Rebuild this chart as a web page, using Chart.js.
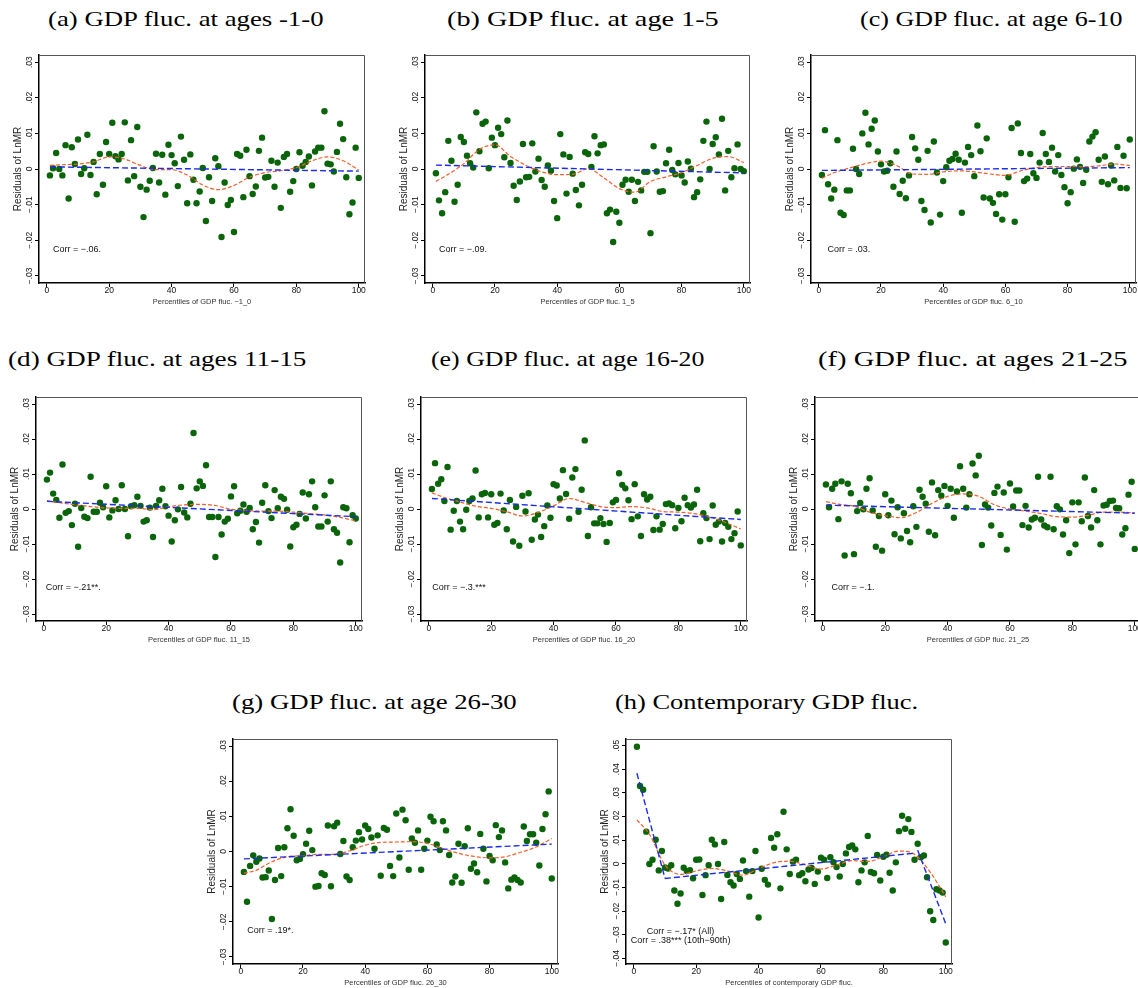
<!DOCTYPE html>
<html><head><meta charset="utf-8">
<script src="https://cdn.jsdelivr.net/npm/chart.js@4.4.1/dist/chart.umd.min.js"></script>
<style>
body{margin:0;background:#fff;width:1138px;height:988px;overflow:hidden;position:relative}
canvas{position:absolute}
.ttl{position:absolute;font-family:"Liberation Serif","Times New Roman",serif;font-size:22px;line-height:22px;white-space:nowrap;transform-origin:0 0;color:#000}
</style></head><body>
<script>
/* ---------- data (residuals in units of 0.001) ---------- */
const PCT = Array.from({length:100},(_,i)=>i+1);          // percentiles 1..100
const X_TICKS = [0,20,40,60,80,100];
const Y_TICKS = [-0.03,-0.02,-0.01,0,0.01,0.02,0.03];
const Y_LABELS = ['\u2212.03','\u2212.02','\u2212.01','0','.01','.02','.03'];
const Y_TICKS_H = [-0.04,-0.03,-0.02,-0.01,0,0.01,0.02,0.03,0.04,0.05];
const Y_LABELS_H = ['\u2212.04','\u2212.03','\u2212.02','\u2212.01','0','.01','.02','.03','.04','.05'];

const RES_A = [-1.8,0.2,4.5,0,-1.8,6.7,-8.3,6.1,1.4,8.3,
  -1.4,0.2,9.6,-1.7,2.0,-7.1,4.2,-4.4,7.6,4.2,
  13.0,3.6,2.7,4.2,13.1,-3.2,8.1,-2.0,11.8,-5.0,
  -13.5,-5.8,-3.3,0.3,4.3,-3.8,4.0,-7.2,6.8,3.9,
  1.6,-4.8,9.1,2.6,-9.6,4.1,-3.0,-9.6,-6.3,0.3,
  -14.6,-2.3,-9.0,3.0,0.8,-19.1,-3.8,-10.1,-8.7,-17.7,
  4.2,3.7,-7.9,5.4,-2.0,-7.0,-4.9,5.1,8.8,-2.4,
  -2.2,2.3,-5.0,1.8,-10.9,3.4,4.2,-6.4,-3.4,0,
  4.7,0.9,2.0,3.5,-4.6,4.9,6.0,6.0,16.2,1.5,
  1.3,-0.7,4.8,12.7,8.4,-2.3,-12.7,-9.4,6.0,-2.5];
const RES_B = [-1.2,-8.8,-12.4,-6.5,7.9,2.3,-9.2,-4.4,9.0,7.6,
  3.7,1.6,0.4,15.9,5.0,12.7,13.3,0.2,8.8,6.7,
  11.6,9.8,3.3,13.6,1.7,-4.7,-8.7,-3.5,7.0,-2.3,
  -2.2,7.2,-0.7,2.9,-3.1,-5.0,1.0,-0.5,-9.0,-13.8,
  9.8,4.1,-6.9,3.4,-1.3,-5.9,-10.2,-4.4,4.7,4.2,
  0.6,9.2,4.4,6.7,6.9,-12.4,-11.4,-20.5,-12.0,-15.1,
  -4.4,-3.0,-6.4,-3.0,-9.0,-3.6,-6.0,-0.8,-0.8,-18.0,
  6.4,-0.7,-6.4,-6.2,1.6,5.4,-0.3,-1.5,1.7,-1.8,
  -3.8,2.1,0.1,-7.9,-6.5,-2.9,7.9,13.3,0,7.0,
  8.9,4.1,14.1,-6.0,5.1,-2.3,0.2,6.9,0,-0.6];
const RES_C = [-1.7,10.9,-4.3,-8.3,-5.8,8.1,-12.3,-12.9,-6.0,-6.0,
  5.7,0,-1.4,10.0,15.8,6.9,11.3,13.6,4.9,1.3,
  -0.7,-0.5,1.6,-5.0,4.9,-7.0,-3.3,-8.2,-1.8,9.0,
  5.8,2.6,-9.0,-11.5,5.1,-15.0,7.7,-1.0,-12.8,-3.4,
  0.5,2.3,2.8,4.3,2.6,-12.3,1.8,6.2,3.9,-2.0,
  12.2,5.0,-8.0,8.6,-8.3,-9.5,-12.6,-7.1,-14.2,-7.1,
  -2.3,11.5,-14.8,12.8,4.5,-3.4,-2.7,4.2,-1.2,-2.5,
  1.8,10.1,4.2,2.0,6.0,-0.7,3.9,-1.7,-5.1,-9.6,
  -6.5,0.1,2.7,0.6,-3.9,-0.2,7.7,9.1,10.3,2.6,
  -3.6,3.5,-4.3,1.0,-3.2,6.2,-5.3,3.7,-5.4,8.3];
const RES_D = [8.4,10.4,4.4,2.6,-2.5,12.7,-1.1,-0.6,-4.6,1.5,
  -10.8,0.3,-2.2,-2.6,9.2,-0.8,-0.8,1.8,0.5,6.5,
  -2.4,-0.4,2.5,0,6.8,0,-7.8,0.8,1.1,3.5,
  0.9,-3.6,-3.2,0.4,-8.0,0.9,2.5,5.8,0.8,-1.9,
  -9.3,-3.2,-0.1,6.3,-1.0,-2.4,1.5,21.7,5.9,7.9,
  6.6,12.5,-2.3,-2.3,-13.7,-2.3,-7.3,-3.6,-2.8,3.6,
  6.5,-1.2,-0.5,1.3,-0.8,0.3,-5.8,-3.7,-9.6,1.8,
  6.8,-0.6,-2.6,5.4,0.2,3.5,2.9,-0.2,-10.7,-5.2,
  -4.5,-1.4,4.7,-2.7,4.2,7.9,0.5,-5.0,-5.0,3.9,
  -3.6,7.9,-5.8,-6.8,-15.3,0.5,0.2,-9.5,-1.8,-2.7];
const RES_E = [5.7,13.1,7.2,8.5,2.3,12.0,-5.9,-0.5,2.3,-3.6,
  -5.8,-0.2,2.3,3.0,11.0,-2.4,4.2,4.6,-2.4,4.2,
  -4.5,-4.0,4.4,-0.4,-5.8,2.6,-9.3,0.6,-10.5,3.8,
  -0.7,4.5,-8.8,-3.0,-1.6,-8.0,-4.9,1.0,-2.5,7.1,
  6.7,3.0,11.1,4.3,-2.8,9.0,11.4,-0.8,5.5,19.6,
  -7.7,0.5,-4.1,-4.1,-2.6,-4.3,-9.4,-4.0,1.9,2.6,
  10.2,6.9,5.9,2.5,-2.9,7.1,-2.1,-7.7,4.2,2.7,
  3.5,-6.0,-2.1,-5.9,-4.3,1.4,1.6,1.1,-5.5,0.3,
  -3.5,3.2,1.1,0.4,1.3,5.5,-9.2,-1.2,-2.6,-8.6,
  1.0,-4.5,-3.6,-9.3,-4.0,-5.1,-8.6,-6.9,-0.7,-10.4];
const RES_F = [7.0,0.5,5.8,7.2,-2.9,7.9,-13.3,7.2,4.5,-12.9,
  -0.6,1.7,-0.1,5.8,8.8,-0.4,-10.8,-2.0,-11.9,4.2,
  -1.8,2.4,-7.2,0.5,-8.4,-1.2,-6.3,-9.5,0.8,-5.1,
  5.5,3.5,1.5,-6.5,7.6,-7.5,5.4,3.8,6.6,0.9,
  5.8,-2.5,5.0,12.2,5.8,0.4,4.2,13.0,9.6,15.2,
  -10.3,1.3,0.4,-4.7,4.6,6.4,-7.4,4.7,-11.6,7.3,
  0.7,5.3,5.3,-4.6,0.9,-5.3,-3.0,-2.5,9.2,-3.0,
  -4.7,-5.2,9.2,-5.8,0.8,-0.1,-7.3,-3.2,-12.6,1.9,
  -10.1,1.9,-3.5,9.0,-2.0,-5.3,5.4,-3.2,-10.1,1.0,
  1.2,2.3,2.4,0.3,0.2,-7.3,-5.5,4.1,7.8,-11.4];
const RES_G = [-5.8,-14.3,-4.1,-1.1,-2.9,-2.0,-7.4,-7.3,-5.4,-19.2,
  -8.1,1.0,-7.0,1.2,6.6,12.0,4.5,-2.5,-2.1,-0.8,
  2.2,5.9,0.4,-10.0,-9.8,-6.2,-6.7,7.4,-9.9,7.2,
  8.2,-0.7,3.0,-7.1,-8.1,1.2,3.1,5.5,3.4,7.4,
  6.4,4.0,0.8,4.6,-6.9,6.7,6.2,-4.1,-7.0,10.8,
  -1.7,11.9,8.9,-5.2,3.7,2.5,6.0,-5.2,0.8,3.1,
  9.9,8.6,2.0,0.4,8.6,6.0,-1.0,-8.8,-7.1,2.2,
  -8.9,1.5,6.6,-4.9,-3.4,-5.9,5.0,0.8,-8.5,-1.3,
  -2.5,7.5,4.1,6.0,-3.1,-10.5,-8.0,-7.4,-8.1,-8.8,
  7.1,3.0,4.9,4.9,2.5,-4.0,6.4,10.6,17.1,-7.7];
const RES_H = [49.5,32.9,31.3,13.6,-0.1,1.7,10.2,-2.8,5.4,-1.6,
  -2.0,-0.6,-11.3,-16.9,-12.6,-1.7,-3.1,-2.7,-6.1,1.7,
  1.8,-13.2,-4.8,-0.6,10.2,8.2,-0.1,-14.9,9.2,-4.7,
  -7.8,-9.2,-4.3,-6.4,1.4,-3.1,-13.9,-3.1,5.4,-22.7,
  -2.1,-6.8,-8.8,10.9,6.8,12.5,-10.4,22.0,6.1,-4.3,
  0.9,1.7,-4.8,-4.0,-7.4,-2.4,-1.8,-8.5,-3.3,2.6,
  1.7,-6.0,2.8,0.7,-1.4,-5.4,-0.1,4.4,7.1,7.8,
  6.1,-7.8,-2.8,0.6,11.8,-3.5,-4.0,3.7,-7.1,3.0,
  3.8,-3.8,-11.3,0.6,13.8,20.3,14.8,18.9,13.5,1.7,
  8.5,2.8,3.5,-5.7,-20.1,-23.8,-10.8,-11.3,-12.2,-33.3];

/* lowess curves, read at these percentiles */
const LOW_X = [1,5,10,15,20,25,30,35,40,45,50,55,60,65,70,75,80,85,90,95,100];
const LOW_A = [1.0,1.2,1.4,2.0,3.4,2.8,1.0,-0.2,-0.2,-1.7,-4.5,-5.8,-4.6,-2.3,-1.0,-0.5,0.4,2.3,3.4,2.3,-0.3];
const LOW_B = [-3.5,-1.5,1.5,5.5,6.8,3.5,1.0,-0.8,-1.6,-1.5,0.1,-2.5,-5.5,-6.5,-3.5,-2.2,-1.0,1.0,3.0,3.5,1.8];
const LOW_C = [-2.6,-1.0,0.3,1.5,2.2,1.0,-1.4,-1.5,-0.8,-0.5,-0.8,-1.4,-1.8,-0.5,0.4,0.7,0.7,0.6,0.9,1.4,1.0];
const LOW_D = [2.3,1.8,1.2,0.7,0.3,0.2,0.2,-0.2,0.6,1.2,1.3,1.0,-0.1,-0.4,-0.6,-0.6,-0.9,-1.3,-1.7,-2.4,-3.4];
const LOW_E = [4.6,3.3,2.0,0.8,0.2,-0.8,-2.0,-1.0,0.9,3.0,1.9,0.7,0.4,0.7,0.3,-0.7,-0.9,-1.3,-2.3,-3.8,-5.7];
const LOW_F = [2.1,1.4,0.8,-0.9,-1.9,-2.5,-1.0,1.6,3.6,4.3,3.6,1.2,0.0,-0.6,-1.3,-2.2,-2.3,-1.8,-0.9,-0.9,-1.1];
const LOW_G = [-6.2,-5.3,-2.9,-1.5,-1.2,-0.8,-0.8,0.2,1.8,2.6,2.7,2.8,2.3,0.8,-0.5,-1.4,-1.8,-1.5,-0.2,1.3,3.7];
const LOW_H = [18.6,12.5,-0.5,-4.5,-3.0,-2.0,-3.0,-4.8,-2.0,0.5,1.1,-0.5,-2.2,-0.5,1.3,1.0,3.0,5.4,4.0,-3.5,-14.0];

/* linear fits: endpoints */
const FIT_X = [1,100];
const FIT_A = [0.6,-0.6], FIT_B = [1.1,-1.1], FIT_C = [-0.4,0.4], FIT_D = [2.2,-2.2];
const FIT_E = [3.0,-3.0], FIT_F = [1.1,-1.2], FIT_G = [-2.1,2.1];
const FIT_H_X = [[1,10],[10,90],[91,100]];
const FIT_H   = [[38.3,-6.2],[-6.2,4.5],[5.7,-25.4]];

/* ---------- panels ---------- */
const ROW_Y = {yMin:-0.032, yMax:0.032, yt:Y_TICKS, yl:Y_LABELS};
const PANELS = [
 {title:'(a) GDP fluc. at ages -1-0', tl:[48,323,26],  box:[39,55,326,228],  xt:'Percentiles of GDP fluc. \u22121_0', corr:['Corr = \u2212.06.'], res:RES_A, low:LOW_A, fits:[[FIT_X,FIT_A]], cx:2},
 {title:'(b) GDP fluc. at age 1-5',   tl:[447,719,26], box:[425,55,325,228], xt:'Percentiles of GDP fluc. 1_5', corr:['Corr = \u2212.09.'], res:RES_B, low:LOW_B, fits:[[FIT_X,FIT_B]], cx:2},
 {title:'(c) GDP fluc. at age 6-10',  tl:[860,1123,26],box:[811,55,325,228], xt:'Percentiles of GDP fluc. 6_10', corr:['Corr = .03.'], res:RES_C, low:LOW_C, fits:[[FIT_X,FIT_C]], cx:2.8},
 {title:'(d) GDP fluc. at ages 11-15',tl:[8,307,366],  box:[36,397,326,224], xt:'Percentiles of GDP fluc. 11_15', corr:['Corr = \u2212.21**.'], res:RES_D, low:LOW_D, fits:[[FIT_X,FIT_D]], cx:0.6},
 {title:'(e) GDP fluc. at age 16-20', tl:[431,705,366],box:[421,397,326,224],xt:'Percentiles of GDP fluc. 16_20', corr:['Corr = \u2212.3.***'], res:RES_E, low:LOW_E, fits:[[FIT_X,FIT_E]], cx:1.1},
 {title:'(f) GDP fluc. at ages 21-25',tl:[818,1128,366],box:[815,397,326,224],xt:'Percentiles of GDP fluc. 21_25', corr:['Corr = \u2212.1.'], res:RES_F, low:LOW_F, fits:[[FIT_X,FIT_F]], cx:2.8},
 {title:'(g) GDP fluc. at age 26-30', tl:[232,517,709],box:[233,739,325,225],xt:'Percentiles of GDP fluc. 26_30', corr:['Corr = .19*.'], res:RES_G, low:LOW_G, fits:[[FIT_X,FIT_G]], cx:2.1},
 {title:'(h) Contemporary GDP fluc.', tl:[615,918,709],box:[626,739,326,225],xt:'Percentiles of contemporary GDP fluc.',
  corr:['Corr = \u2212.17* (All)','Corr = .38*** (10th\u221290th)'], res:RES_H, low:LOW_H,
  fits:FIT_H_X.map((x,i)=>[x,FIT_H[i]]), cx:15, center:true, cy:[-0.0285,-0.0325],
  yMin:-0.0424, yMax:0.0528, yt:Y_TICKS_H, yl:Y_LABELS_H}
];

Chart.defaults.font.family = '"Liberation Sans", Arial, sans-serif';
const pts = (xs,ys)=>xs.map((x,i)=>({x, y:ys[i]/1000}));

/* stata-like frame, rotated y labels, corr note */
const decor = {
  id:'decor',
  afterDraw(chart){
    const p = chart.options.plugins.decor.p, a = chart.chartArea, ctx = chart.ctx;
    const xs = chart.scales.x, ys = chart.scales.y;
    ctx.save();
    ctx.strokeStyle = '#555'; ctx.lineWidth = 1;
    ctx.beginPath(); ctx.moveTo(a.left, a.top+0.5); ctx.lineTo(a.right-0.5, a.top+0.5); ctx.lineTo(a.right-0.5, a.bottom); ctx.stroke();
    ctx.fillStyle = '#111'; ctx.font = '8.5px "Liberation Sans", Arial, sans-serif';
    ctx.textAlign = 'center'; ctx.textBaseline = 'middle';
    p.yt.forEach((v,i)=>{
      ctx.save(); ctx.translate(a.left-9, ys.getPixelForValue(v)); ctx.rotate(-Math.PI/2);
      ctx.fillText(p.yl[i], 0, 0); ctx.restore();
    });
    ctx.font = '9px "Liberation Sans", Arial, sans-serif';
    ctx.textAlign = p.center ? 'center' : 'left';
    const cy = p.cy || [-0.0225];
    p.corr.forEach((t,i)=>ctx.fillText(t, xs.getPixelForValue(p.cx), ys.getPixelForValue(cy[i])));
    ctx.restore();
  }
};

function makePanel(p0){
  const p = Object.assign({}, ROW_Y, p0);
  const [bl,bt,bw,bh] = p.box;
  const cv = document.createElement('canvas');
  cv.width = bw+52; cv.height = bh+42;
  cv.style.left = (bl-40)+'px'; cv.style.top = (bt-12)+'px';
  document.body.appendChild(cv);

  const t = document.createElement('div');
  t.className = 'ttl'; t.textContent = p.title;
  t.style.left = p.tl[0]+'px'; t.style.top = (p.tl[2]-18.4)+'px';
  document.body.appendChild(t);
  t.style.transform = 'scaleX('+((p.tl[1]-p.tl[0])/t.offsetWidth)+')';

  const datasets = p.fits.map(f=>({
    data:pts(f[0],f[1]), showLine:true, borderColor:'#1c2ce8', borderWidth:1.4,
    borderDash:[6,3], pointRadius:0, order:0
  }));
  datasets.push({data:pts(LOW_X,p.low), showLine:true, borderColor:'#f2602c', borderWidth:1.2,
    borderDash:[4,2], pointRadius:0, cubicInterpolationMode:'monotone', order:1});
  datasets.push({data:pts(PCT,p.res), pointRadius:3.2, pointBackgroundColor:'#0a640a',
    pointBorderWidth:0, order:2});

  new Chart(cv,{
    type:'scatter',
    data:{datasets},
    options:{
      responsive:false, animation:false, events:[],
      layout:{padding:{left:0,top:12,right:12,bottom:0}},
      plugins:{legend:{display:false}, tooltip:{enabled:false}, decor:{p}},
      scales:{
        x:{type:'linear', min:-2.5, max:102,
          afterBuildTicks:s=>{ s.ticks = X_TICKS.map(v=>({value:v})); },
          afterFit:s=>{ s.height = 30; },
          ticks:{font:{size:8.5}, color:'#111', padding:-1, maxRotation:0, autoSkip:false},
          grid:{drawOnChartArea:false, tickLength:4, color:'#000'},
          border:{color:'#000', width:1.5},
          title:{display:true, text:p.xt, color:'#333', font:{size:7.5}, padding:{top:0,bottom:7}}},
        y:{type:'linear', min:p.yMin, max:p.yMax,
          afterBuildTicks:s=>{ s.ticks = p.yt.map(v=>({value:v})); },
          afterFit:s=>{ s.width = 40; },
          ticks:{display:false},
          grid:{drawOnChartArea:false, tickLength:4, color:'#000'},
          border:{color:'#000', width:1.5},
          title:{display:true, text:'Residuals of LnMR', color:'#222', font:{size:10}, padding:{top:13,bottom:0}}}
      }
    },
    plugins:[decor]
  });
}

PANELS.forEach(makePanel);
</script>
</body></html>
